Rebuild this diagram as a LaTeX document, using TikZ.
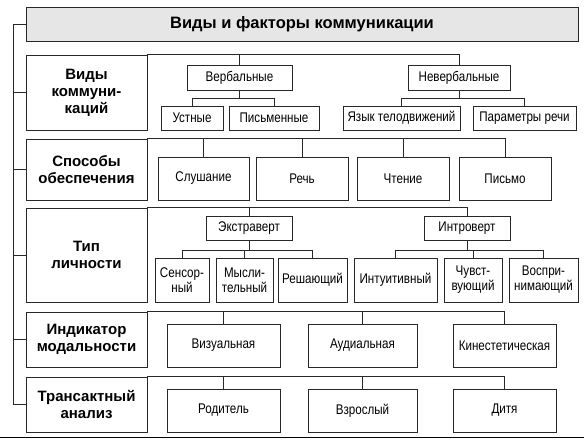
\documentclass[tikz,border=0pt]{standalone}
\usepackage{fontspec}
\setmainfont{Liberation Sans}
\newfontfamily\narrowfont[FakeStretch=0.83]{Liberation Sans}
\definecolor{rule}{RGB}{40,40,40}
\definecolor{titlebg}{RGB}{230,230,230}

\tikzset{
  box/.style={draw=rule, line width=0.8pt, inner sep=0pt, align=center,
    font=\narrowfont\fontsize{14}{15}\selectfont},
  head/.style={box, font=\bfseries\fontsize{15}{17}\selectfont},
  wh/.style 2 args={minimum width=#1, minimum height=#2},
}

\begin{document}
\begin{tikzpicture}[x=1pt,y=-1pt]
                \useasboundingbox (0,0) rectangle (584,439);

                % title and row labels
                \node[head, fill=titlebg, wh={552}{34}, font=\bfseries\fontsize{16.5}{18}\selectfont] (title) at (302,24) {Виды и факторы коммуникации};
                \node[head, wh={121}{75}] (r1) at (86.5,92.5) {Виды\\коммуни-\\каций};
                \node[head, wh={121}{61}] (r2) at (86.5,169.5) {Способы\\обеспечения};
                \node[head, wh={121}{94}] (r3) at (86.5,255) {Тип\\личности};
                \node[head, wh={121}{55}] (r4) at (86.5,339.5) {Индикатор\\модальности};
                \node[head, wh={121}{55}] (r5) at (86.5,404.5) {Трансактный\\анализ};
                \coordinate (spine) at (13,24);

                % row 1
                \node[box, wh={105}{25}] (verb) at (239.5,77.5) {Вербальные};
                \node[box, wh={102}{25}] (nverb) at (459,77.5) {Невербальные};
                \node[box, wh={62}{24}] (ust) at (192,118) {Устные};
                \node[box, wh={90}{24}] (pism) at (274,118) {Письменные};
                \node[box, wh={117}{24}] (yaz) at (401.5,118) {Язык телодвижений};
                \node[box, wh={103}{24}] (par) at (524.5,118) {Параметры речи};

                % row 2
                \node[box, wh={91}{43}] (slush) at (203.5,178.5) {Слушание};
                \node[box, wh={92}{43}] (rech) at (302,178.5) {Речь};
                \node[box, wh={92}{43}] (cht) at (403,178.5) {Чтение};
                \node[box, wh={92}{43}] (pis) at (505,178.5) {Письмо};

                % row 3
                \node[box, wh={86}{24}] (ext) at (249,228) {Экстраверт};
                \node[box, wh={86}{24}] (intr) at (467,228) {Интроверт};
                \node[box, wh={54}{44}] (sens) at (182,280) {Сенсор-\\ный};
                \node[box, wh={57}{44}] (mysl) at (244.5,280) {Мысли-\\тельный};
                \node[box, wh={69}{44}] (resh) at (312.5,280) {Решающий};
                \node[box, wh={83}{44}] (intu) at (395.5,280) {Интуитивный};
                \node[box, wh={58}{44}] (chuv) at (473,280) {Чувст-\\вующий};
                \node[box, wh={69}{44}] (vosp) at (543.5,280) {Воспри-\\нимающий};

                % row 4
                \node[box, wh={113}{43}] (viz) at (223.5,345.5) {Визуальная};
                \node[box, wh={109}{43}] (aud) at (362.5,345.5) {Аудиальная};
                \node[box, wh={103}{43}] (kin) at (504.5,345.5) {Кинестетическая};

                % row 5
                \node[box, wh={113}{43}] (rod) at (223.5,410.5) {Родитель};
                \node[box, wh={109}{43}] (vzr) at (362.5,410.5) {Взрослый};
                \node[box, wh={103}{43}] (dit) at (504.5,410.5) {Дитя};

                % left bracket
                \draw[rule, line width=0.8pt] (title.west) -| (spine) |- (r5.west);
                \foreach \r in {r1,r2,r3,r4}
                    \draw[rule, line width=0.8pt] (\r.west) -- (\r.west -| spine);

                \begin{scope}[rule, line width=0.8pt]
                \draw (r1.north east) -| (nverb.north);
                \draw (verb.north) -- (verb.north |- r1.north);
                \draw (verb.south) -- ++(0,9);
                \draw (ust.north) -- ++(0,-7) -| (pism.north);
                \draw (nverb.south) -- ++(0,9);
                \draw (yaz.north) -- ++(0,-7) -| (par.north);

                \draw (r2.north east) -| (pis.north);
                \foreach \n in {slush,rech,cht}
                    \draw (\n.north) -- (\n.north |- r2.north);

                \draw (r3.north east) -| (intr.north);
                \draw (ext.north) -- (ext.north |- r3.north);
                \draw (ext.south) -- ++(0,11);
                \draw (sens.north) -- ++(0,-7) -| (resh.north);
                \draw (mysl.north) -- ++(0,-7);
                \draw (intr.south) -- ++(0,11);
                \draw (intu.north) -- ++(0,-7) -| (vosp.north);
                \draw (chuv.north) -- ++(0,-7);

                \draw (r4.north east) -| (kin.north);
                \foreach \n in {viz,aud}
                    \draw (\n.north) -- (\n.north |- r4.north);
                \draw (r5.north east) -| (dit.north);
                \foreach \n in {rod,vzr}
                    \draw (\n.north) -- (\n.north |- r5.north);
                \end{scope}

                \draw[line width=1.6pt] (0,437.5) -- (584,437.5);
            \end{tikzpicture}
\end{document}
